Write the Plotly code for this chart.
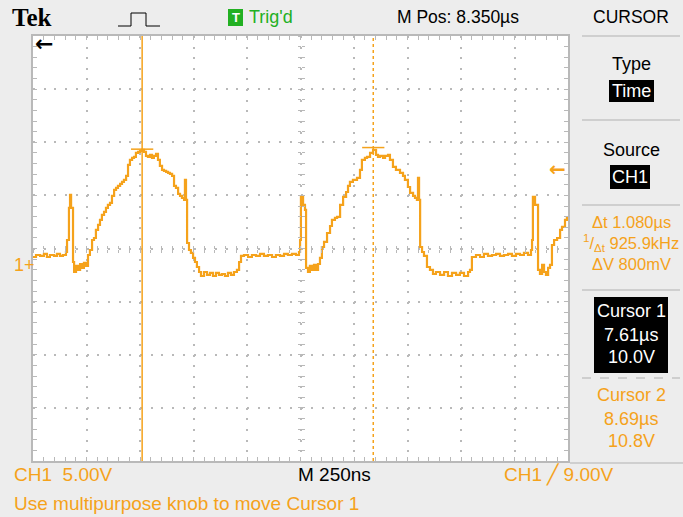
import plotly.graph_objects as go

time_us = [7.100, 7.114, 7.133, 7.151, 7.165, 7.179, 7.198, 7.212, 7.226, 7.240, 7.254, 7.259,
           7.268, 7.273, 7.278, 7.282, 7.287, 7.292, 7.301, 7.310, 7.320, 7.329, 7.338, 7.348,
           7.357, 7.366, 7.376, 7.385, 7.394, 7.404, 7.413, 7.422, 7.432, 7.441, 7.450, 7.460,
           7.469, 7.479, 7.488, 7.497, 7.507, 7.516, 7.525, 7.535, 7.544, 7.553, 7.563, 7.572,
           7.581, 7.591, 7.600, 7.609, 7.619, 7.628, 7.637, 7.647, 7.656, 7.665, 7.675, 7.684,
           7.693, 7.703, 7.712, 7.722, 7.731, 7.740, 7.750, 7.759, 7.768, 7.778, 7.787, 7.796,
           7.806, 7.810, 7.815, 7.820, 7.829, 7.838, 7.848, 7.857, 7.866, 7.876, 7.885, 7.899,
           7.913, 7.927, 7.941, 7.955, 7.969, 7.983, 7.997, 8.011, 8.025, 8.039, 8.053, 8.063,
           8.072, 8.086, 8.105, 8.123, 8.142, 8.161, 8.179, 8.198, 8.217, 8.235, 8.254, 8.273,
           8.291, 8.310, 8.329, 8.343, 8.348, 8.352, 8.362, 8.371, 8.376, 8.385, 8.394, 8.404,
           8.413, 8.423, 8.432, 8.441, 8.450, 8.460, 8.474, 8.488, 8.497, 8.511, 8.521, 8.535,
           8.549, 8.563, 8.572, 8.581, 8.595, 8.614, 8.628, 8.637, 8.651, 8.661, 8.675, 8.689,
           8.703, 8.712, 8.722, 8.736, 8.745, 8.759, 8.768, 8.782, 8.796, 8.815, 8.829, 8.838,
           8.852, 8.862, 8.876, 8.885, 8.894, 8.899, 8.904, 8.909, 8.918, 8.927, 8.941, 8.955,
           8.969, 8.983, 9.002, 9.021, 9.039, 9.058, 9.077, 9.095, 9.114, 9.133, 9.142, 9.151,
           9.170, 9.189, 9.207, 9.226, 9.245, 9.264, 9.282, 9.301, 9.320, 9.338, 9.357, 9.376,
           9.394, 9.413, 9.427, 9.432, 9.436, 9.446, 9.455, 9.460, 9.469, 9.479, 9.488, 9.497,
           9.507, 9.516, 9.525, 9.535, 9.549, 9.563, 9.572, 9.586, 9.595]

ch1_volts = [0.75, 0.94, 0.85, 1.04, 0.75, 0.94, 0.85, 1.04, 0.85, 0.94, 1.22, 2.35,
             5.37, 6.59, 5.37, 5.37, 0.28, -0.66, -0.09, -0.47, 0.09, -0.28, 0.19, -0.09,
             0.94, 1.41, 2.35, 2.54, 3.30, 3.77, 4.24, 4.71, 4.99, 5.37, 5.65, 5.84,
             6.50, 7.06, 7.25, 7.44, 7.63, 7.82, 8.00, 8.38, 9.42, 9.89, 10.08, 10.17,
             10.55, 10.64, 10.73, 10.83, 10.64, 10.26, 10.17, 10.36, 10.08, 10.26, 10.45, 9.89,
             9.32, 8.95, 8.85, 8.76, 8.66, 8.57, 8.38, 7.44, 7.25, 6.69, 6.50, 6.31,
             6.12, 8.00, 6.12, 2.07, 1.41, 1.13, 0.66, 0.28, -0.19, -0.66, -1.04, -0.66,
             -0.94, -0.75, -1.04, -0.75, -0.94, -0.85, -1.04, -0.75, -0.94, -0.66, -0.47, 0.28,
             0.85, 0.94, 0.75, 0.94, 0.85, 1.04, 0.85, 0.94, 0.75, 0.94, 0.85, 1.04,
             0.94, 1.04, 0.94, 1.22, 2.35, 6.40, 5.65, 5.18, -0.28, -0.66, -0.09, -0.47,
             0.00, -0.47, 0.09, 0.66, 1.69, 2.17, 3.01, 3.67, 4.24, 4.43, 4.52, 5.65,
             6.40, 6.87, 7.44, 7.82, 8.00, 8.19, 8.95, 9.89, 10.08, 10.17, 10.55, 10.83,
             10.36, 10.17, 10.26, 10.08, 10.26, 10.36, 9.89, 9.23, 8.95, 8.66, 8.38, 8.00,
             7.34, 6.78, 6.50, 6.31, 6.12, 8.19, 6.12, 1.69, 1.22, 0.85, -0.19, -0.47,
             -0.85, -0.66, -0.94, -0.66, -1.04, -0.75, -0.94, -0.75, -1.04, -0.66, -0.47, 0.75,
             0.94, 0.75, 1.04, 0.85, 0.94, 1.04, 0.85, 0.94, 1.04, 0.85, 1.04, 0.94,
             1.13, 0.94, 1.41, 2.35, 6.40, 5.65, 5.65, -0.47, -0.85, 0.00, -0.66, -0.94,
             -0.28, 0.00, 1.88, 2.35, 2.54, 3.30, 3.58, 4.24, 4.52]

cursor_names = ["Cursor 1", "Cursor 2"]
cursor_time_us = [7.61, 8.69]
cursor_marker_v = [10.9, 11.05]     # where the cursor crosshairs sit on screen
cursor_time_labels = ["7.61µs", "8.69µs"]
cursor_volt_labels = ["10.0V", "10.8V"]

t_center, t_per_div = 8.35, 0.25     # M Pos 8.350µs, M 250ns
v_per_div, v_center = 5.0, 1.55      # CH1 5.00V
trigger_level_v = 9.00

# ---------------- styling ----------------
ORANGE = "#f5a21b"
GRID = "#b9b9b9"
BG = "#ededed"
FONT = "Liberation Sans, Arial, sans-serif"

L, R, T, B = 33, 568, 36, 461          # plot box in pixels
W, H = 683, 517


def PX(x):
    return (x - L) / (R - L)


def PY(y):
    return (B - y) / (B - T)


x_range = [t_center - 5 * t_per_div, t_center + 5 * t_per_div]
y_range = [v_center - 4 * v_per_div, v_center + 4 * v_per_div]

fig = go.Figure()
fig.add_trace(go.Scatter(x=time_us, y=ch1_volts, mode="lines",
                         line=dict(color=ORANGE, width=2.2, shape="hv"),
                         hoverinfo="skip", showlegend=False))
# empty traces to register the centre graticule axes
for xa, ya in [("x2", "y"), ("x3", "y"), ("x", "y2"), ("x", "y3")]:
    fig.add_trace(go.Scatter(x=[None], y=[None], xaxis=xa, yaxis=ya, mode="lines",
                             showlegend=False, hoverinfo="skip"))

common = dict(showticklabels=False, zeroline=False, fixedrange=True)
fig.update_layout(
    width=W, height=H,
    margin=dict(l=L, r=W - R, t=T, b=H - B, pad=0),
    paper_bgcolor=BG, plot_bgcolor="white",
    xaxis=dict(range=x_range, tick0=x_range[0], dtick=t_per_div,
               showgrid=True, gridcolor=GRID, gridwidth=1.5, griddash="2px,8.62px",
               showline=True, linecolor=GRID, linewidth=1.5, mirror="allticks",
               ticks="inside", ticklen=4, tickcolor=GRID, tickwidth=1,
               minor=dict(dtick=t_per_div / 5, tick0=x_range[0], ticks="inside",
                          ticklen=4, tickcolor=GRID, showgrid=False),
               **common),
    yaxis=dict(range=y_range, tick0=y_range[0], dtick=v_per_div,
               showgrid=True, gridcolor=GRID, gridwidth=1.5, griddash="2px,8.7px",
               showline=True, linecolor=GRID, linewidth=1.5, mirror="allticks",
               ticks="inside", ticklen=4, tickcolor=GRID, tickwidth=1,
               minor=dict(dtick=v_per_div / 5, tick0=y_range[0], ticks="inside",
                          ticklen=4, tickcolor=GRID, showgrid=False),
               **common),
)
for name, tk in [("xaxis2", "outside"), ("xaxis3", "inside")]:
    fig.layout[name] = dict(range=x_range, overlaying="x", anchor="free", position=0.5,
                            showgrid=False, showline=False, ticks=tk, ticklen=3,
                            tickcolor=GRID, tick0=x_range[0], dtick=t_per_div / 5, **common)
for name, tk in [("yaxis2", "outside"), ("yaxis3", "inside")]:
    fig.layout[name] = dict(range=y_range, overlaying="y", anchor="free", position=0.5,
                            showgrid=False, showline=False, ticks=tk, ticklen=3,
                            tickcolor=GRID, tick0=y_range[0], dtick=v_per_div / 5, **common)

shapes = []
# cursors
for i, (ct, cv) in enumerate(zip(cursor_time_us, cursor_marker_v)):
    shapes.append(dict(type="line", xref="x", yref="paper", x0=ct, x1=ct, y0=0, y1=1,
                       line=dict(color=ORANGE, width=1.5, dash="solid" if i == 0 else "dot")))
    shapes.append(dict(type="line", xref="x", yref="y", x0=ct - 0.052, x1=ct + 0.052,
                       y0=cv, y1=cv, line=dict(color=ORANGE, width=1.5)))


def pline(x0, y0, x1, y1, color="#c4c4c4", width=1.5, dash="solid"):
    shapes.append(dict(type="line", xref="paper", yref="paper", x0=PX(x0), x1=PX(x1),
                       y0=PY(y0), y1=PY(y1), line=dict(color=color, width=width, dash=dash)))


def prect(x0, y0, x1, y1, color):
    shapes.append(dict(type="rect", xref="paper", yref="paper", x0=PX(x0), x1=PX(x1),
                       y0=PY(y0), y1=PY(y1), fillcolor=color, line=dict(width=0)))


# right panel separators
for yy in (36, 120, 205, 290):
    pline(582, yy, 680, yy)
pline(582, 378, 680, 378, dash="dash")
pline(570, 463, 683, 463)
# black boxes
prect(609, 80, 654, 102, "black")
prect(610, 165, 650, 189, "black")
prect(594, 297, 668, 373, "black")
# green trigger box
prect(228, 9, 243, 26, "#22b022")
# pulse icon
shapes.append(dict(type="path", xref="paper", yref="paper",
                   path="M{},{} L{},{} L{},{} L{},{} L{},{} L{},{}".format(
                       PX(118), PY(26), PX(131), PY(26), PX(131), PY(13),
                       PX(146), PY(13), PX(146), PY(26), PX(160), PY(26)),
                   line=dict(color="black", width=1)))
fig.update_layout(shapes=shapes)

annotations = []


def txt(s, x, y, color="black", size=17.5, anchor="left", family=FONT, bold=False):
    annotations.append(dict(text=("<b>%s</b>" % s) if bold else s, xref="paper", yref="paper",
                            x=PX(x), y=PY(y), xanchor=anchor, yanchor="middle",
                            showarrow=False, font=dict(color=color, size=size, family=family)))


txt("Tek", 10, 17, size=25, family="Liberation Serif, DejaVu Serif, serif", bold=True)
txt("T", 235.5, 17.5, color="white", size=13, anchor="center", bold=True)
txt("Trig'd", 247, 17, color="#22b022", size=18)
txt("M Pos: 8.350µs", 395, 17)
txt("CURSOR", 631, 17, anchor="center")
txt("Type", 631, 64, anchor="center", size=18)
txt("Time", 631.5, 91, color="white", anchor="center", size=18)
txt("Source", 631, 150, anchor="center", size=18)
txt("CH1", 630, 177, color="white", anchor="center", size=18)
dt = cursor_time_us[1] - cursor_time_us[0]
txt("Δt %.3fµs" % dt, 631, 222, color=ORANGE, anchor="center", size=16.5)
txt("<sup>1</sup>/<sub>Δt</sub> %.1fkHz" % (1000 / dt), 631, 243, color=ORANGE,
    anchor="center", size=16.5)
txt("ΔV 800mV", 631, 264, color=ORANGE, anchor="center", size=16.5)
for i, (n, tl, vl) in enumerate(zip(cursor_names, cursor_time_labels, cursor_volt_labels)):
    c = "white" if i == 0 else ORANGE
    y0 = 311 if i == 0 else 395
    txt(n, 631, y0, color=c, anchor="center", size=18)
    txt(tl, 631, y0 + 24, color=c, anchor="center", size=18)
    txt(vl, 631, y0 + 46, color=c, anchor="center", size=18)
txt("CH1  5.00V", 12, 474, color=ORANGE, size=19)
txt("M 250ns", 296, 474, size=19)
txt("CH1 ╱ %.2fV" % trigger_level_v, 502, 474, color=ORANGE, size=19)
txt("Use multipurpose knob to move Cursor 1", 12, 503, color=ORANGE, size=19)
txt("1+", 12, 265, color=ORANGE, size=18)
txt("←", 33, 44, size=22, family="DejaVu Sans", bold=True)
annotations.append(dict(text="<b>←</b>", xref="paper", yref="y", x=1.0, y=trigger_level_v,
                        xanchor="right", yanchor="middle", showarrow=False,
                        font=dict(color=ORANGE, size=20, family="DejaVu Sans")))
fig.update_layout(annotations=annotations)

fig.write_html("out.html", config={"displayModeBar": False},
               post_script="document.body.style.margin='0px';")
